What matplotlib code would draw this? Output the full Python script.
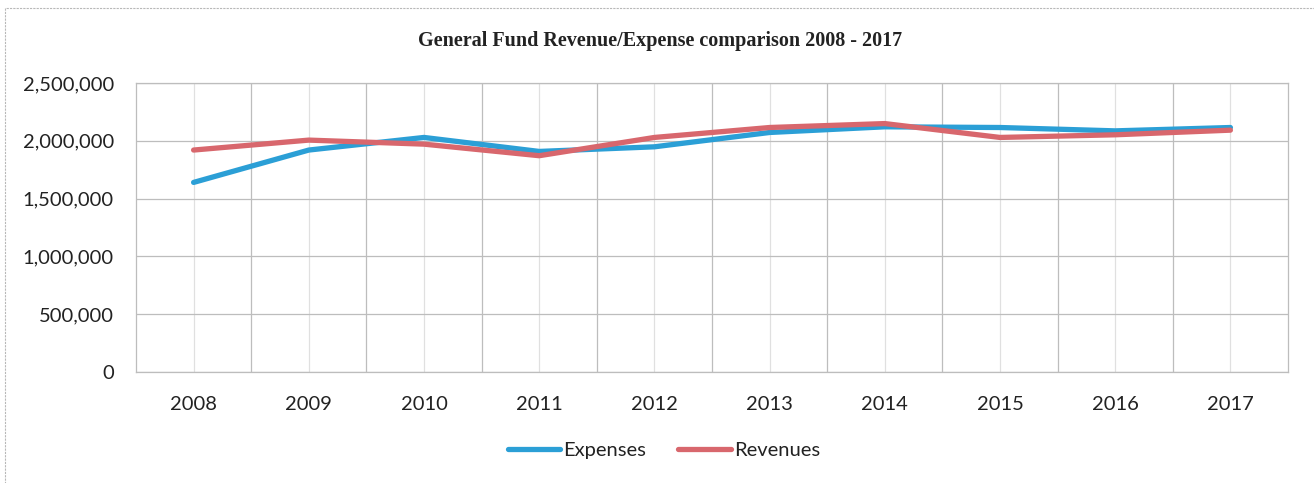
import matplotlib
matplotlib.use("Agg")
import matplotlib.pyplot as plt
from matplotlib.ticker import FuncFormatter, FixedLocator, MultipleLocator
from matplotlib.patches import Rectangle

# data
years = ["2008", "2009", "2010", "2011", "2012", "2013", "2014", "2015", "2016", "2017"]
expenses = [1640000, 1920000, 2029000, 1908000, 1948000, 2072000, 2121000, 2115000, 2086000, 2115000]
revenues = [1920000, 2006000, 1971000, 1871000, 2029000, 2115000, 2149000, 2029000, 2052000, 2092000]

blue = "#2b9fd6"
red = "#d8676d"

fig = plt.figure(figsize=(13.14, 4.83), dpi=100)
ax = fig.add_axes([136 / 1314, 1 - 372 / 483, (1288 - 136) / 1314, (372 - 83) / 483])

x = list(range(len(years)))
ax.plot(x, expenses, color=blue, lw=3.8, solid_capstyle="round", label="Expenses", zorder=3)
ax.plot(x, revenues, color=red, lw=3.8, solid_capstyle="round", label="Revenues", zorder=4)

ax.set_xlim(-0.5, len(years) - 0.5)
ax.set_ylim(0, 2500000)
ax.yaxis.set_major_locator(MultipleLocator(500000))
ax.yaxis.set_major_formatter(FuncFormatter(lambda v, p: f"{int(v):,}"))

ax.set_xticks(x)
ax.set_xticklabels(years)
ax.xaxis.set_minor_locator(FixedLocator([i + 0.5 for i in x[:-1]]))

# gridlines: darker at category boundaries, lighter through the points
ax.grid(True, axis="y", which="major", color="#bdbdbd", lw=0.9)
ax.grid(True, axis="x", which="minor", color="#bdbdbd", lw=0.9)
ax.grid(True, axis="x", which="major", color="#e0e0e0", lw=0.9)
ax.set_axisbelow(True)

for s in ax.spines.values():
    s.set_color("#bdbdbd")
    s.set_linewidth(0.9)

ax.tick_params(axis="both", which="both", length=0, colors="#222222", labelsize=14.5)
ax.tick_params(axis="y", pad=16)
ax.tick_params(axis="x", pad=17)
for t in ax.get_xticklabels() + ax.get_yticklabels():
    t.set_fontfamily("Lato")

fig.text(0.5 + 3 / 1314, 1 - 41 / 483, "General Fund Revenue/Expense comparison 2008 - 2017",
         ha="center", va="center", fontfamily="Liberation Serif", fontweight="bold",
         fontsize=14.5, color="#222222")

leg = fig.legend(loc="center", bbox_to_anchor=(664 / 1314, 1 - 450 / 483), ncol=2, frameon=False,
                 prop={"family": "Lato", "size": 14.5}, handlelength=2.6, handletextpad=0.15,
                 columnspacing=1.6)
for t in leg.get_texts():
    t.set_color("#222222")

# outer chart frame from the scan
fig.patches.append(Rectangle((5 / 1314, -0.05), 1.2, 1 - 8 / 483 + 0.05, transform=fig.transFigure,
                             fill=False, ec="#b8b8b8", lw=0.8, ls=(0, (2, 1))))

fig.savefig("out.png", dpi=100, facecolor="white")
